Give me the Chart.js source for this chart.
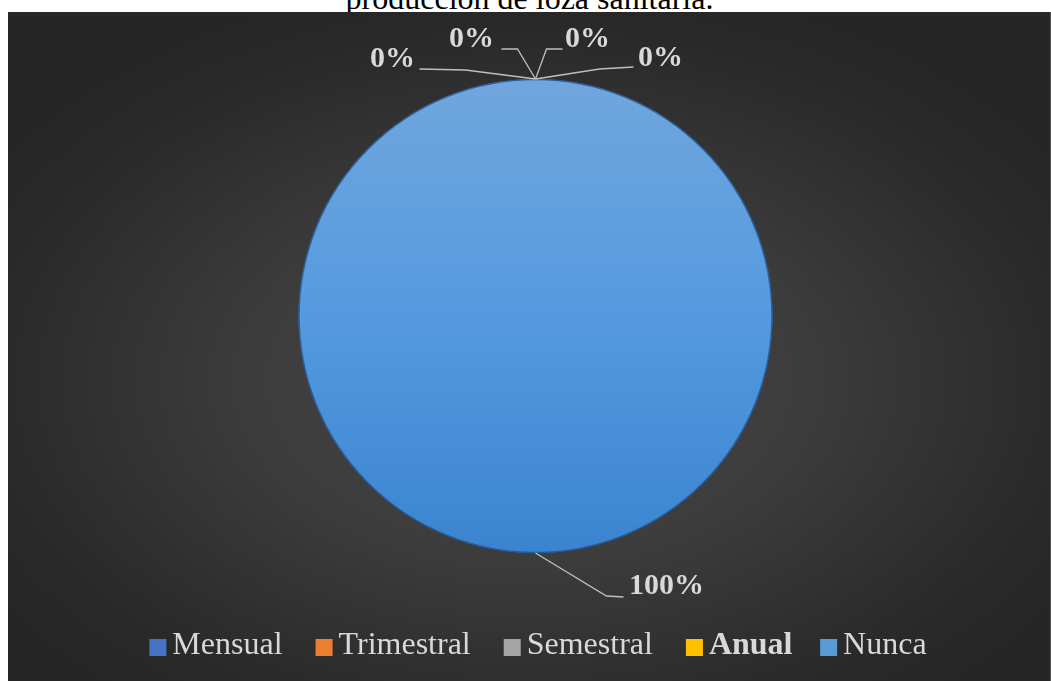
<!DOCTYPE html>
<html>
<head>
<meta charset="utf-8">
<script src="https://cdn.jsdelivr.net/npm/chart.js@4"></script>
<style>
  html, body { margin: 0; padding: 0; background: #fff; width: 1051px; height: 681px; overflow: hidden; }
  #title {
    position: absolute; left: 8px; top: -20px; width: 1043px; line-height: 32px;
    text-align: center; font: 32px "Liberation Serif", "Times New Roman", serif; color: #000;
    z-index: 0; white-space: nowrap;
  }
  #panel {
    position: absolute; left: 8px; top: 12px; width: 1042px; height: 669px;
    border-right: 1px solid #555;
    background: radial-gradient(ellipse 60% 60% at 50% 55%, #474747 0%, #3c3c3c 45%, #2a2a2a 85%, #262626 100%);
    z-index: 1;
  }
  #chartCanvas { display: block; }
</style>
</head>
<body>
<div id="title">producción de loza sanitaria.</div>
<div id="panel"><canvas id="chartCanvas" width="1042" height="669"></canvas></div>
<script>
const categories = ['Mensual', 'Trimestral', 'Semestral', 'Anual', 'Nunca'];
const values = [0, 0, 0, 0, 100];
const legendColors = ['#4472c4', '#ed7d31', '#a5a5a5', '#ffc000', '#5b9bd5'];

// label placement around each slice anchor: [label dx, dy, elbow dx, dy, end dx, dy]
const labelOffsets = [
    [-143, -20, -70, -9, -116, -10],
    [-64, -40, -18, -30, -34, -30],
    [52, -40, 11, -30, 27, -30],
    [125, -21, 64, -10, 98, -12],
    [131, 33, 71, 43, 88, 44]
];

function sliceColor(ctx) {
    let i = ctx.dataIndex;
    if (i !== 4) return legendColors[i];
    let area = ctx.chart.chartArea;
    if (!area) return legendColors[i];
    let cy = (area.top + area.bottom) / 2;
    let g = ctx.chart.ctx.createLinearGradient(0, cy - 237, 0, cy + 237);
    g.addColorStop(0, '#70a6dc');
    g.addColorStop(0.5, '#559ae0');
    g.addColorStop(1, '#3a84cf');
    return g;
}

const pieLabels = {
    id: 'pieLabels',
    afterDatasetsDraw(chart) {
        let ctx = chart.ctx;
        let meta = chart.getDatasetMeta(0);
        let data = chart.data.datasets[0].data;
        let total = data.reduce((a, b) => a + b, 0);
        ctx.save();
        // soft edge round the full slice
        let big = meta.data[4].getProps(['x', 'y', 'outerRadius'], true);
        ctx.strokeStyle = 'rgba(35,85,145,0.85)';
        ctx.lineWidth = 1.5;
        ctx.beginPath();
        ctx.arc(big.x, big.y, big.outerRadius - 0.5, 0, Math.PI * 2);
        ctx.stroke();
        meta.data.forEach((arc, i) => {
            let p = arc.getProps(['x', 'y', 'startAngle', 'endAngle', 'outerRadius'], true);
            let mid = (p.startAngle + p.endAngle) / 2;
            let ax = p.x + Math.cos(mid) * p.outerRadius;
            let ay = p.y + Math.sin(mid) * p.outerRadius;
            let o = labelOffsets[i];
            ctx.strokeStyle = '#bfbfbf';
            ctx.lineWidth = 1.3;
            ctx.beginPath();
            ctx.moveTo(ax, ay);
            ctx.lineTo(ax + o[2], ay + o[3]);
            ctx.lineTo(ax + o[4], ay + o[5]);
            ctx.stroke();
            ctx.fillStyle = '#d9d9d9';
            ctx.font = 'bold 30px "Liberation Serif", serif';
            ctx.textAlign = 'center';
            ctx.textBaseline = 'middle';
            ctx.fillText(Math.round(data[i] / total * 100) + '%', ax + o[0], ay + o[1]);
        });
        ctx.restore();
    },
    afterDraw(chart) {
        // legend squares sit close to their text; "Anual" is bold
        let lg = chart.legend;
        if (!lg || !lg.legendHitBoxes) return;
        let ctx = chart.ctx;
        ctx.save();
        lg.legendHitBoxes.forEach((hb, i) => {
            let cy = hb.top + hb.height / 2;
            ctx.fillStyle = legendColors[i];
            ctx.fillRect(hb.left + 5, cy - 7, 17, 17);
        });
        let hb = lg.legendHitBoxes[3];
        ctx.fillStyle = '#d9d9d9';
        ctx.font = 'bold 32px "Liberation Serif", serif';
        ctx.textAlign = 'left';
        ctx.textBaseline = 'middle';
        ctx.fillText(categories[3], hb.left + 28, hb.top + hb.height / 2);
        ctx.restore();
    }
};

let chart = new Chart(document.getElementById('chartCanvas').getContext('2d'), {
    type: 'pie',
    data: {
        labels: categories,
        datasets: [{
            data: values,
            backgroundColor: sliceColor,
            borderWidth: 0,
            radius: 237
        }]
    },
    options: {
        responsive: false,
        animation: false,
        layout: { padding: { top: 18, left: 15, right: 2, bottom: 9 } },
        plugins: {
            tooltip: { enabled: false },
            legend: {
                position: 'bottom',
                labels: {
                    boxWidth: 12,
                    boxHeight: 17,
                    padding: 28,
                    color: '#d9d9d9',
                    font: { family: '"Liberation Serif", serif', size: 32 },
                    generateLabels: c => c.data.labels.map((l, i) => ({
                        text: l,
                        fillStyle: 'rgba(0,0,0,0)',
                        strokeStyle: 'rgba(0,0,0,0)',
                        lineWidth: 0,
                        fontColor: i === 3 ? 'rgba(0,0,0,0)' : '#d9d9d9',
                        hidden: false,
                        index: i
                    }))
                }
            }
        }
    },
    plugins: [pieLabels]
});
</script>
</body>
</html>
